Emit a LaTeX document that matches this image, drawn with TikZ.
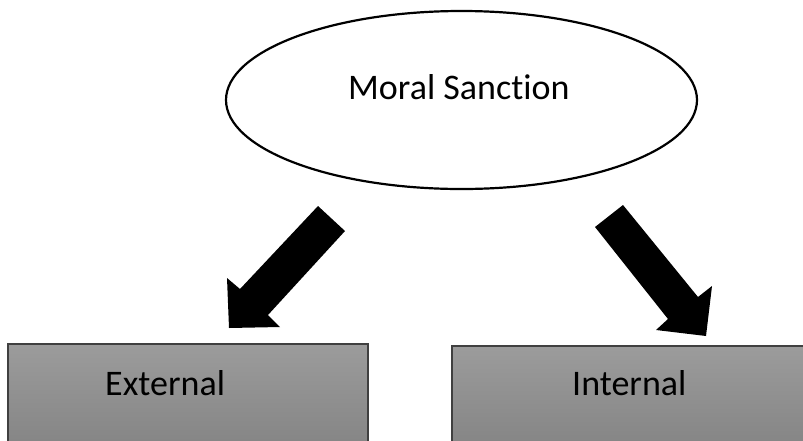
\documentclass[tikz,border=0pt]{standalone}
\usepackage{fontspec}
\setmainfont[Ligatures={NoCommon,NoRare,NoDiscretionary}]{Carlito}
\usetikzlibrary{shapes.geometric}
\tikzset{
  lbl/.style={inner sep=0pt, font=\fontsize{36}{43}\selectfont, anchor=base west},
  gbox/.style={draw=black!75, line width=1.5pt, top color=black!39, bottom color=black!50},
  blockarrow/.style={fill=black, draw=none}
}
\begin{document}
\begin{tikzpicture}[x=1pt, y=-1pt]
\useasboundingbox (0,0) rectangle (803,440);
\clip (0,0) rectangle (803,440);
% ellipse
\node[ellipse, draw, line width=2.2pt, minimum width=471pt, minimum height=178pt, inner sep=0pt] (ms) at (461.5,100) {};
\node[lbl] (mslbl) at (348,99) {Moral Sanction};
% boxes
\path[gbox] (8,344) rectangle (368,470);
\coordinate (ext) at (188,400);
\node[lbl] (extlbl) at (105,395) {External};
\path[gbox] (452,346) rectangle (812,470);
\coordinate (int) at (632,400);
\node[lbl] (intlbl) at (572,395) {Internal};
% left block arrow
\coordinate (a1) at (318,206);
\coordinate (a2) at (345,231);
\coordinate (n2) at (268,315);
\coordinate (b2) at (280,327);
\coordinate (t1) at (229,328);
\coordinate (b1) at (227,278);
\coordinate (n1) at (240,289);
\path[blockarrow] (a1) -- (a2) -- (n2) -- (b2) -- (t1) -- (b1) -- (n1) -- cycle;
% right block arrow
\coordinate (c1) at (595,227);
\coordinate (c2) at (623,205);
\coordinate (m1) at (698,297);
\coordinate (r1) at (712,286);
\coordinate (t2) at (706,336);
\coordinate (r2) at (656,330);
\coordinate (m2) at (668,319);
\path[blockarrow] (c2) -- (m1) -- (r1) -- (t2) -- (r2) -- (m2) -- (c1) -- cycle;
\end{tikzpicture}
\end{document}
